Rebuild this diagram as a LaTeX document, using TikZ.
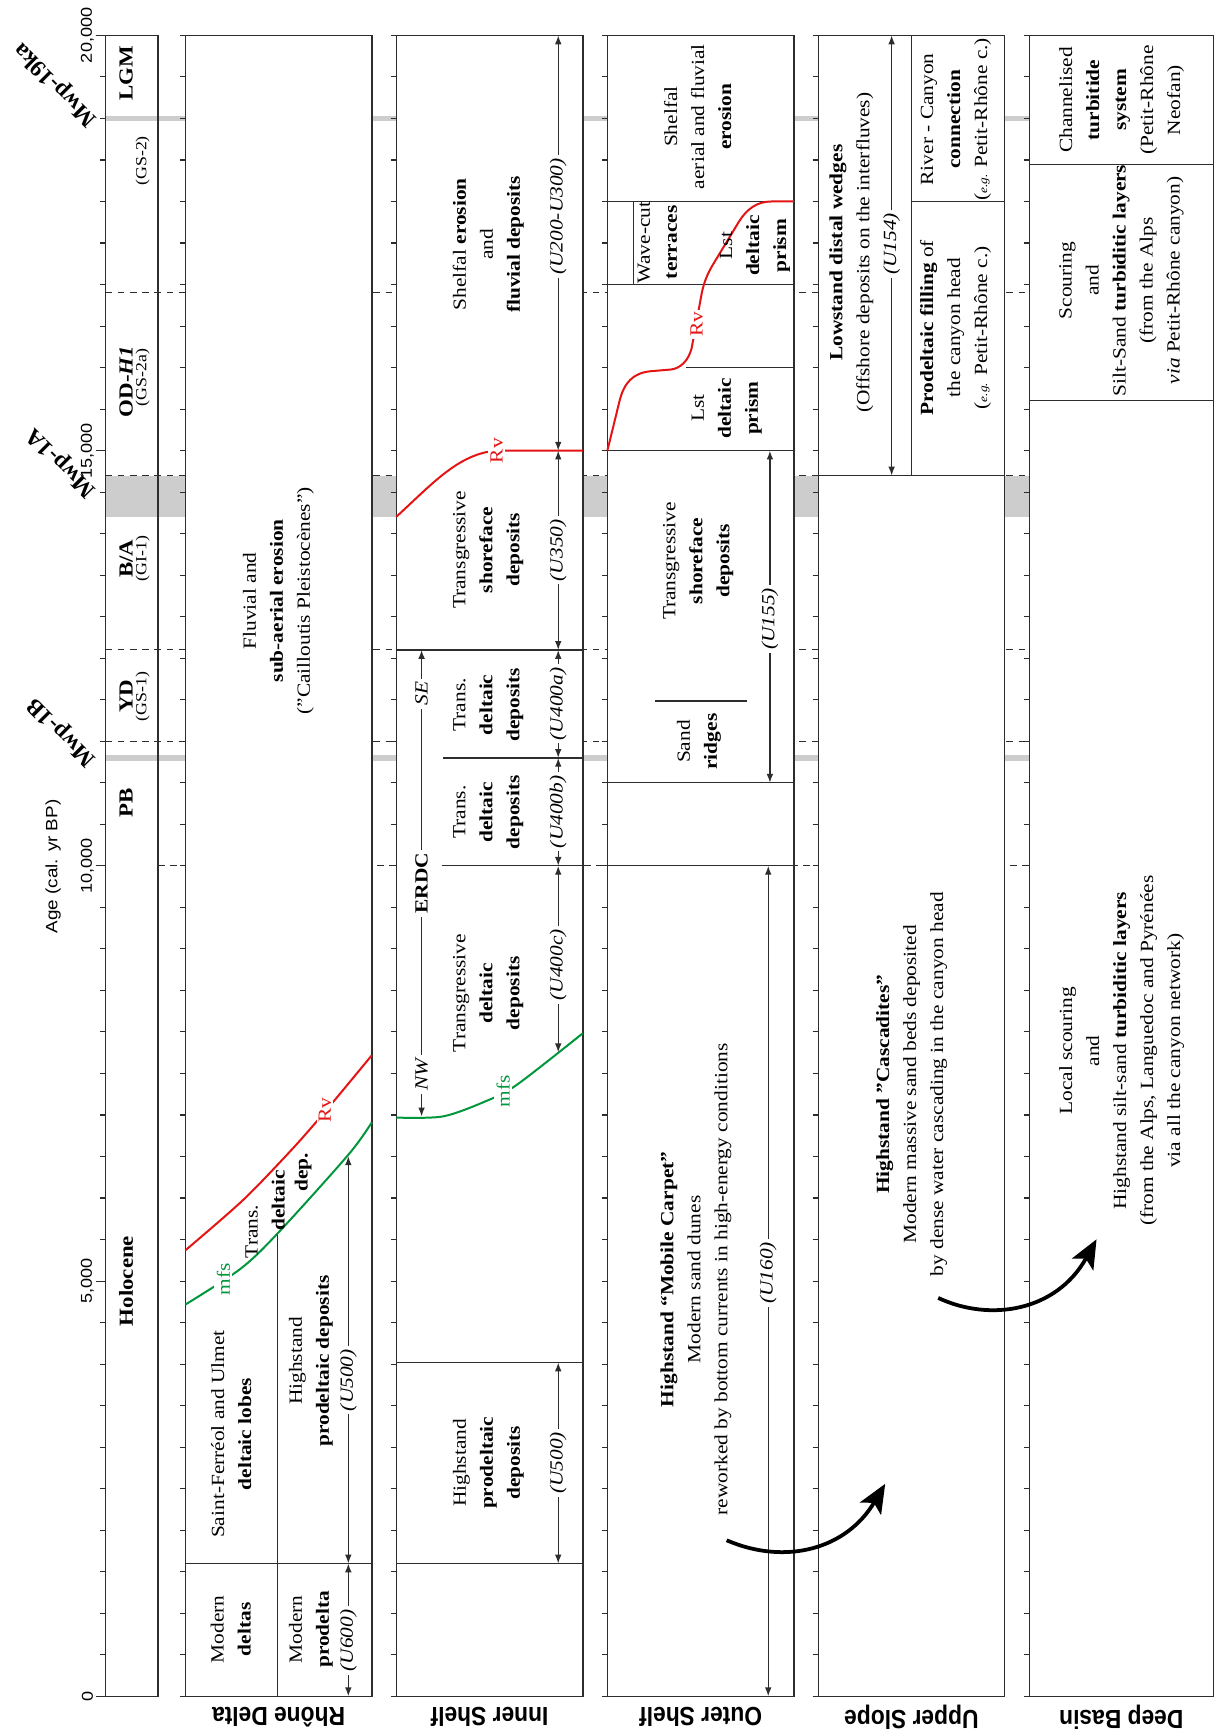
\documentclass[tikz,border=0pt]{standalone}
\usepackage{fontspec}
\usepackage{graphicx}
\setmainfont{Liberation Serif}[FakeStretch=1.15]
\newfontfamily\axfont{Liberation Sans}[FakeStretch=1.15]
\newfontfamily\lblfont{Liberation Sans}
\newfontfamily\mwpfont{Liberation Serif}
\usetikzlibrary{arrows.meta}
\definecolor{rvred}{RGB}{228,20,20}
\definecolor{mfsgreen}{RGB}{0,150,60}
\definecolor{barg}{RGB}{205,205,205}
\definecolor{lnc}{RGB}{45,45,45}
\newcommand{\msz}{\fontsize{8.4}{12.2}\selectfont}
\newcommand{\csz}{\fontsize{9}{11}\selectfont}
\newcommand{\gsz}{\fontsize{7}{9}\selectfont}
\newcommand{\egz}{\fontsize{5.2}{6}\selectfont}
\begin{document}
\begin{tikzpicture}[x=0.5pt,y=-0.5pt,
  declare function={ty(\q)=1533-75.05*\q;},
  txt/.style={rotate=90,align=center,font=\msz,inner sep=0pt},
  chr/.style={rotate=90,align=center,font=\csz\bfseries,inner sep=0pt},
  gsl/.style={rotate=90,font=\gsz,inner sep=0pt},
  colbox/.style={draw=lnc,line width=0.7pt,fill=white},
  sepl/.style={draw=lnc,line width=0.55pt},
  dshl/.style={draw=lnc,line width=0.5pt,dash pattern=on 3pt off 2.5pt},
  dbl/.style={draw=lnc,line width=0.6pt,{Latex[length=4pt,width=3pt]}-{Latex[length=4pt,width=3pt]}},
  ulab/.style={rotate=90,fill=white,inner sep=1.5pt,font=\msz\itshape},
  erl/.style={rotate=90,fill=white,inner sep=1.5pt,font=\msz},
  bigarr/.style={line width=1.7pt,-{Stealth[length=13pt,width=11pt,inset=3pt]}},
  collab/.style={rotate=180,font=\lblfont\bfseries\fontsize{10.3}{12}\selectfont,inner sep=0pt},
  axl/.style={rotate=90,font=\axfont\fontsize{7.1}{8}\selectfont,inner sep=0pt},
  mwp/.style={rotate=135,font=\mwpfont\bfseries\fontsize{10.5}{12}\selectfont,inner sep=0pt},
  rvl/.style={rotate=90,font=\msz,text=rvred,fill=white,inner sep=1pt},
  mfsl/.style={rotate=90,font=\msz,text=mfsgreen,fill=white,inner sep=1pt},
  curv/.style={line width=0.9pt}
]
\fill[white] (0,0) rectangle (1098,1568);
\useasboundingbox (0,0) rectangle (1098,1568);

% gray meltwater pulse bars
\fill[barg] (95.5,{ty(19.03)}) rectangle (930.3,{ty(18.97)});
\fill[barg] (95.5,{ty(14.7)}) rectangle (930.3,{ty(14.2)});
\fill[barg] (95.5,{ty(11.34)}) rectangle (930.3,{ty(11.26)});

% dashed limits
\foreach \tv in {16.9,14.7,12.6,11.5} \draw[dshl] (95.5,{ty(\tv)}) -- (930.3,{ty(\tv)});
\draw[dshl] (143,{ty(10)}) -- (930.3,{ty(10)});

% column boxes
\draw[colbox] (167.5,{ty(20)}) rectangle (336,{ty(0)});
\draw[colbox] (358.2,{ty(20)}) rectangle (526.7,{ty(0)});
\draw[colbox] (548.9,{ty(20)}) rectangle (717.5,{ty(0)});
\draw[colbox] (739.6,{ty(20)}) rectangle (907.7,{ty(0)});
\draw[colbox] (930.3,{ty(20)}) rectangle (1096.5,{ty(0)});
\draw[draw=lnc,line width=0.7pt] (95.5,{ty(20)}) rectangle (143,{ty(0)});

% ticks
\foreach \xl in {95.5,167.5,358.2,548.9,739.6,930.3} {
  \foreach \k in {0,...,40} \draw[lnc,line width=0.5pt] ({\xl-5},{ty(\k/2)}) -- (\xl,{ty(\k/2)});
}
\foreach \k in {0,5,10,15,20} \draw[lnc,line width=0.5pt] (86.5,{ty(\k)}) -- (95.5,{ty(\k)});

% axis labels
\node[axl] (a20) at (79,{ty(20)}) {20,000};
\node[axl] (a15) at (79,{ty(15)}) {15,000};
\node[axl] (a10) at (79,{ty(10)}) {10,000};
\node[axl] (a5) at (79,{ty(5)}) {5,000};
\node[axl] (a0) at (79,{ty(0)}) {0};
\node[axl,font=\axfont\fontsize{7.4}{9}\selectfont] (age) at (48,783) {Age (cal. yr BP)};

% Mwp labels
\node[mwp] (m19) at (50.5,76) {Mwp-19ka};
\node[mwp] (m1a) at (56,418) {Mwp-1A};
\node[mwp] (m1b) at (56.5,661.5) {Mwp-1B};

% chronology
\node[chr] (lgm) at (114,{ty(19.54)}) {LGM};
\node[gsl] (gs2) at (129,{ty(18.49)}) {(GS-2)};
\node[chr] (odh) at (114,{ty(15.83)}) {OD-\textit{H1}};
\node[gsl] (gs2a) at (129,{ty(15.88)}) {(GS-2a)};
\node[chr] (ba) at (114,{ty(13.7)}) {B/A};
\node[gsl] (gi1) at (129,{ty(13.7)}) {(GI-1)};
\node[chr] (yd) at (114,{ty(12.04)}) {YD};
\node[gsl] (gs1) at (129,{ty(12.04)}) {(GS-1)};
\node[chr] (pb) at (114,{ty(10.76)}) {PB};
\node[chr] (hol) at (114,{ty(5.0)}) {Holocene};

% ---------------- Rhone Delta
\draw[sepl] (167.5,{ty(1.6)}) -- (336,{ty(1.6)});
\draw[sepl] (250.6,{ty(0)}) -- (250.6,1115);
\draw[rvred,curv] plot[smooth] coordinates {(167.5,1130) (219.8,1084.4) (263.6,1039) (293.7,1004.7) (336,953.7)};
\draw[mfsgreen,curv] plot[smooth] coordinates {(167.5,1179) (216.9,1147) (250.6,1115) (314.8,1043.6) (336,1014.3)};
\node[rvl] (rv1) at (293.7,1003) {Rv};
\node[mfsl] (mfs1) at (201.8,1156) {mfs};
\node[txt] (flv) at (251.5,543) {Fluvial and\\\textbf{sub-aerial erosion}\\(”Cailloutis Pleistocènes”)};
\node[txt] (trn1) at (227.4,1113) {Trans.};
\node[txt,font=\msz\bfseries] (dlt1) at (251.5,1084.8) {deltaic};
\node[txt,font=\msz\bfseries] (dep1) at (274,1059.5) {dep.};
\node[txt] (sfu) at (209,1296) {Saint-Ferréol and Ulmet\\\textbf{deltaic lobes}};
\node[txt] (hsp1) at (280.9,1230) {Highstand\\\textbf{prodeltaic deposits}};
\node[txt] (mdd) at (208.6,1472.5) {Modern\\\textbf{deltas}};
\node[txt] (mpd) at (280.9,1472.5) {Modern\\\textbf{prodelta}};
\coordinate (r1a) at (314.8,1045);
\coordinate (r1b) at (314.8,{ty(1.6)});
\coordinate (r2b) at (314.8,{ty(0)});
\draw[dbl] (r1a) -- node[ulab,pos=0.55]{(U500)} (r1b);
\draw[dbl] (r1b) -- node[ulab,pos=0.58]{(U600)} (r2b);

% ---------------- Inner Shelf
\draw[sepl] (358.2,{ty(12.6)}) -- (526.7,{ty(12.6)});
\draw[sepl] (400.6,{ty(11.3)}) -- (526.7,{ty(11.3)});
\draw[sepl] (399,{ty(10)}) -- (526.7,{ty(10)});
\draw[sepl] (358.2,{ty(4.02)}) -- (526.7,{ty(4.02)});
\draw[sepl] (358.2,{ty(1.6)}) -- (526.7,{ty(1.6)});
\draw[rvred,curv] (358.2,467) .. controls (390,438) and (415,409) .. (450,407.25) -- (526.7,407.25);
\node[rvl] (rv2) at (448.8,407.25) {Rv};
\draw[mfsgreen,curv] plot[smooth] coordinates {(358.2,1010) (400,1009) (438.3,995.5) (466.9,980.5) (526.7,933.8)};
\node[mfsl] (mfs2) at (454.8,986) {mfs};
\coordinate (ea) at (381,{ty(12.6)});
\coordinate (eb) at (381,1009);
\draw[dbl] (ea) -- node[erl,pos=0.094,font=\msz\itshape]{SE} node[erl,pos=0.5,font=\msz\bfseries]{ERDC} node[erl,pos=0.91,font=\msz\itshape]{NW} (eb);
\node[txt] (sfe) at (441.3,220.8) {Shelfal \textbf{erosion}\\and\\\textbf{fluvial deposits}};
\node[txt] (tsd1) at (441.3,497) {Transgressive\\\textbf{shoreface}\\\textbf{deposits}};
\node[txt] (tdd1) at (441.3,637) {Trans.\\\textbf{deltaic}\\\textbf{deposits}};
\node[txt] (tdd2) at (441.3,734) {Trans.\\\textbf{deltaic}\\\textbf{deposits}};
\node[txt] (tgd) at (441.3,897.6) {Transgressive\\\textbf{deltaic}\\\textbf{deposits}};
\node[txt] (hpd2) at (441.3,1322) {Highstand\\\textbf{prodeltaic}\\\textbf{deposits}};
\coordinate (i1) at (504.5,{ty(20)});
\coordinate (i2) at (504.5,{ty(15)});
\coordinate (i3) at (504.5,{ty(12.6)});
\coordinate (i4) at (504.5,{ty(11.3)});
\coordinate (i5) at (504.5,{ty(10)});
\coordinate (i6) at (504.5,951);
\coordinate (i7) at (504.5,{ty(4.02)});
\coordinate (i8) at (504.5,{ty(1.6)});
\draw[dbl] (i1) -- node[ulab,pos=0.436]{(U200-U300)} (i2);
\draw[dbl] (i2) -- node[ulab,pos=0.5]{(U350)} (i3);
\draw[dbl] (i3) -- node[ulab,pos=0.5]{(U400a)} (i4);
\draw[dbl] (i4) -- node[ulab,pos=0.5]{(U400b)} (i5);
\draw[dbl] (i5) -- node[ulab,pos=0.53]{(U400c)} (i6);
\draw[dbl] (i7) -- node[ulab,pos=0.5]{(U500)} (i8);

% ---------------- Outer Shelf
\draw[sepl] (548.9,{ty(18)}) -- (717.5,{ty(18)});
\draw[sepl] (548.9,{ty(17)}) -- (717.5,{ty(17)});
\draw[sepl] (572.3,{ty(18)}) -- (572.3,{ty(17)});
\draw[sepl] (620,{ty(16)}) -- (717.5,{ty(16)});
\draw[sepl] (548.9,{ty(15)}) -- (717.5,{ty(15)});
\draw[sepl] (591.9,633.6) -- (674.7,633.6);
\draw[sepl] (548.9,{ty(11)}) -- (717.5,{ty(11)});
\draw[sepl] (548.9,{ty(10)}) -- (717.5,{ty(10)});
\draw[rvred,curv] (548.9,407.25) -- (560,362) .. controls (564,346) and (572,337) .. (588,335.5) -- (606,334) .. controls (615,333) and (622,326) .. (625,315) -- (634,266) .. controls (636,255) and (640,246) .. (645,238) -- (668,200) .. controls (675,189) and (684,182.1) .. (697,182.1) -- (717.5,182.1);
\node[rvl] (rv3) at (629.6,293) {Rv};
\node[txt] (sae) at (630.5,105.4) {Shelfal\\aerial and fluvial\\\textbf{erosion}};
\node[txt] (wct) at (594,219) {Wave-cut\\\textbf{terraces}};
\node[txt] (ldp1) at (682.3,222) {Lst\\\textbf{deltaic}\\\textbf{prism}};
\node[txt] (ldp2) at (656.7,368.9) {Lst\\\textbf{deltaic}\\\textbf{prism}};
\node[txt] (tsd2) at (631,507) {Transgressive\\\textbf{shoreface}\\\textbf{deposits}};
\node[txt] (sdr) at (631.7,670.2) {Sand\\\textbf{ridges}};
\node[txt] (hmc) at (629,1156.2) {\textbf{Highstand “Mobile Carpet”}\\Modern sand dunes\\reworked by bottom currents in high-energy conditions};
\coordinate (o1) at (695.8,{ty(15)});
\coordinate (o2) at (695.8,{ty(11)});
\coordinate (o3) at (694.3,{ty(10)});
\coordinate (o4) at (694.3,{ty(0)});
\draw[dbl] (o1) -- node[ulab,pos=0.507]{(U155)} (o2);
\draw[dbl] (o3) -- node[ulab,pos=0.49]{(U160)} (o4);

% ---------------- Upper Slope
\draw[sepl] (823.9,{ty(20)}) -- (823.9,{ty(14.7)});
\draw[sepl] (739.6,{ty(14.7)}) -- (907.7,{ty(14.7)});
\draw[sepl] (823.9,{ty(18)}) -- (907.7,{ty(18)});
\coordinate (u1) at (805.8,{ty(20)});
\coordinate (u2) at (805.8,{ty(14.7)});
\draw[dbl] (u1) -- node[ulab,pos=0.474]{(U154)} (u2);
\node[txt] (ldw) at (769.5,228.4) {\textbf{Lowstand distal wedges}\\(Offshore deposits on the interfluves)};
\node[txt] (rcc) at (863.9,107.9) {River - Canyon\\\textbf{connection}\\({\egz\textit{e.g.}} Petit-Rhône c.)};
\node[txt] (pfc) at (863.6,296.2) {\textbf{Prodeltaic filling} of\\the canyon head\\({\egz\textit{e.g.}} Petit-Rhône c.)};
\node[txt] (hca) at (823.9,979.9) {\textbf{Highstand ”Cascadites”}\\Modern massive sand beds deposited\\by dense water cascading in the canyon head};

% ---------------- Deep Basin
\draw[sepl] (930.3,{ty(18.45)}) -- (1096.5,{ty(18.45)});
\draw[sepl] (930.3,{ty(15.6)}) -- (1096.5,{ty(15.6)});
\node[txt] (cts) at (1013.6,90.4) {Channelised\\\textbf{turbitide}\\\textbf{system}\\(Petit-Rhône\\Neofan)};
\node[txt] (sco) at (1013.6,253.5) {Scouring\\and\\Silt-Sand \textbf{turbiditic layers}\\(from the Alps\\\textit{via} Petit-Rhône canyon)};
\node[txt] (lsc) at (1013.6,949.6) {Local scouring\\and\\Highstand silt-sand \textbf{turbiditic layers}\\(from the Alps, Languedoc and Pyrénées\\via all the canyon network)};

% big curved arrows
\coordinate (ba1) at (656.7,1392);
\coordinate (ba2) at (800,1341);
\coordinate (bb1) at (847.9,1173);
\coordinate (bb2) at (991,1120);
\draw[bigarr] (ba1) .. controls (710,1415) and (765,1400) .. (ba2);
\draw[bigarr] (bb1) .. controls (895,1195) and (955,1185) .. (bb2);

% column labels
\node[collab] (lrd) at (251.75,1552) {\scalebox{1}[1.15]{Rhône Delta}};
\node[collab] (lis) at (442.45,1552) {\scalebox{1}[1.15]{Inner Shelf}};
\node[collab] (los) at (633.2,1552) {\scalebox{1}[1.15]{Outer Shelf}};
\node[collab] (lus) at (823.65,1552) {\scalebox{1}[1.15]{Upper Slope}};
\node[collab] (ldb) at (1013.4,1552) {\scalebox{1}[1.15]{Deep Basin}};
\end{tikzpicture}
\end{document}
